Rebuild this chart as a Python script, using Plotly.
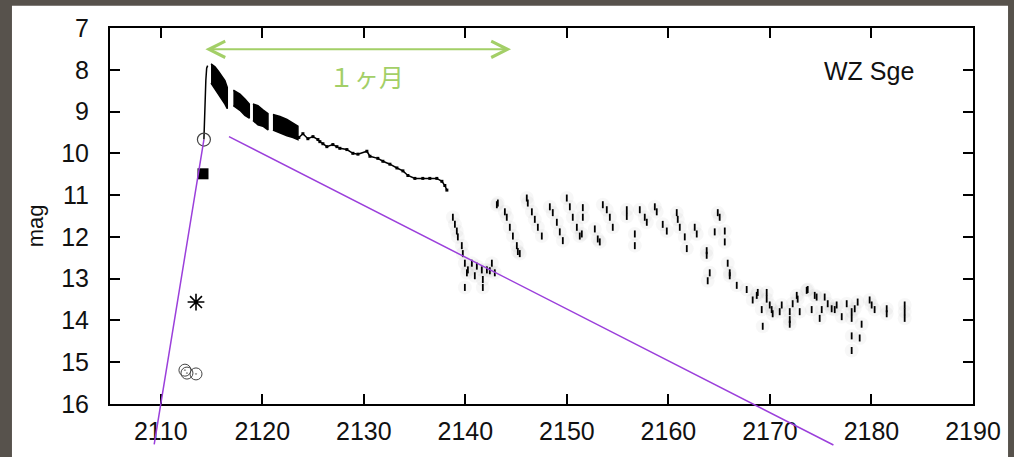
import plotly.graph_objects as go

# ---------------- data ----------------
# superoutburst plateau (dense superhump band): time, bright edge, faint edge
seg1_t = [2114.95, 2115.34, 2115.66, 2116.00, 2116.32, 2116.55]
seg1_hi = [7.86, 7.93, 8.03, 8.14, 8.26, 8.42]
seg1_lo = [8.32, 8.46, 8.58, 8.70, 8.82, 8.93]
seg2_t = [2117.15, 2117.80, 2118.29, 2118.72]
seg2_hi = [8.49, 8.58, 8.70, 8.82]
seg2_lo = [8.86, 8.97, 9.09, 9.16]
seg3_t = [2119.08, 2119.57, 2120.06, 2120.56]
seg3_hi = [8.82, 8.86, 8.96, 9.05]
seg3_lo = [9.21, 9.32, 9.35, 9.44]
seg4_t = [2121.05, 2121.74, 2122.43, 2123.02, 2123.51]
seg4_hi = [9.07, 9.12, 9.19, 9.28, 9.35]
seg4_lo = [9.44, 9.51, 9.58, 9.62, 9.67]

# rise to maximum
rise_t = [2114.25, 2114.30, 2114.36, 2114.44, 2114.52, 2114.62]
rise_mag = [9.67, 9.20, 8.70, 8.25, 7.96, 7.90]

# slow decline (thin part of plateau)
decl_t = [2123.60, 2124.00, 2124.49, 2124.99, 2125.48, 2125.67, 2125.97, 2126.36,
          2126.95, 2127.35, 2127.64, 2128.33, 2128.92, 2129.42, 2130.30, 2130.60,
          2131.38, 2131.88, 2132.57, 2133.26, 2133.85, 2134.34, 2135.03, 2135.81,
          2136.50, 2137.19, 2137.69, 2137.98, 2138.18]
decl_mag = [9.62, 9.53, 9.65, 9.60, 9.67, 9.72, 9.77, 9.84,
            9.79, 9.84, 9.88, 9.91, 10.00, 10.02, 9.95, 10.07,
            10.12, 10.19, 10.26, 10.35, 10.42, 10.53, 10.60, 10.60,
            10.60, 10.60, 10.67, 10.77, 10.88]

# rapid fade, dip and echo outbursts (rebrightenings), late decline
late_t = [2138.77, 2138.97, 2139.16, 2139.26, 2139.65, 2139.75, 2139.95, 2140.15,
          2140.25, 2140.64, 2140.93, 2141.13, 2141.62, 2141.72, 2142.12, 2142.41,
          2142.61, 2142.90, 2139.95, 2141.72,
          2143.10, 2143.20, 2143.89, 2144.08, 2144.38, 2144.68, 2145.07, 2145.17, 2145.36,
          2146.05, 2146.15, 2146.55, 2146.84, 2147.14, 2147.53,
          2148.32, 2148.61, 2149.01, 2149.30, 2149.60,
          2149.99, 2150.29, 2150.58, 2150.98, 2151.27,
          2151.57, 2151.57, 2151.47, 2152.75, 2153.04, 2153.24,
          2153.54, 2153.93, 2154.23, 2154.52,
          2155.90, 2155.90, 2156.69, 2156.69,
          2157.18, 2157.67, 2157.87,
          2158.66, 2158.85, 2159.44, 2159.84,
          2160.82, 2160.92, 2161.12, 2161.61, 2161.81,
          2162.59, 2162.79,
          2163.77, 2163.77, 2164.07, 2163.87,
          2164.86, 2165.05, 2164.56, 2165.55, 2165.55,
          2165.84, 2166.04, 2166.04, 2166.73, 2167.71,
          2168.30, 2168.70, 2168.80, 2169.68, 2169.68, 2169.19, 2169.98, 2170.17,
          2170.27, 2170.96, 2171.16, 2171.95, 2171.95, 2171.95, 2172.24, 2172.64,
          2172.73, 2172.93, 2173.62, 2173.72, 2174.41, 2174.60, 2174.11, 2175.10,
          2174.90, 2175.39, 2175.69, 2176.08, 2176.38, 2176.57, 2177.07, 2177.56,
          2178.05, 2178.05, 2178.35, 2178.64, 2179.03, 2178.05, 2178.84, 2178.05,
          2179.82, 2180.02, 2180.31, 2181.50, 2181.50, 2183.27, 2183.27, 2183.27,
          2169.29]
late_mag = [11.53, 11.70, 11.86, 12.00, 12.21, 12.40, 12.63, 12.86,
            12.79, 12.63, 12.93, 12.70, 12.79, 13.02, 12.79, 12.81,
            12.63, 12.86, 13.21, 13.21,
            11.23, 11.19, 11.40, 11.53, 11.77, 11.98, 12.21, 12.35, 12.40,
            11.07, 11.19, 11.40, 11.58, 11.77, 11.98,
            11.28, 11.42, 11.65, 11.88, 12.09,
            11.07, 11.28, 11.53, 11.77, 11.98,
            11.30, 11.53, 11.93, 11.81, 12.05, 12.12,
            11.23, 11.35, 11.53, 11.77,
            11.35, 11.51, 11.93, 12.21,
            11.35, 11.53, 11.65,
            11.28, 11.40, 11.70, 11.86,
            11.42, 11.58, 11.77, 12.00, 12.28,
            11.77, 11.93,
            12.33, 12.44, 12.86, 13.05,
            11.42, 11.53, 11.88, 11.86, 12.12,
            12.63, 12.86, 12.93, 13.16, 13.26,
            13.51, 13.40, 13.33, 13.33, 13.49, 13.74, 13.63, 13.74,
            13.84, 13.79, 13.63, 13.79, 13.98, 14.09, 13.60, 13.40,
            13.49, 13.79, 13.28, 13.26, 13.40, 13.44, 13.74, 13.74,
            13.95, 13.44, 13.60, 13.72, 13.74, 13.63, 13.91, 13.60,
            13.79, 13.95, 13.72, 13.56, 14.09, 14.37, 14.42, 14.72,
            13.51, 13.63, 13.74, 13.72, 13.84, 13.63, 13.79, 13.95,
            14.14]

# pre-outburst / early observations
circ_t = [2112.38, 2112.58, 2113.47]
circ_mag = [15.19, 15.26, 15.28]
star_t = [2113.47]
star_mag = [13.56]
sq_t = [2114.16]
sq_mag = [10.49]
open_t = [2114.25]
open_mag = [9.67]

# guide lines (purple): visible end first, far end second
line1_t = [2114.25, 2109.33]
line1_mag = [9.67, 17.0]
line2_t = [2116.72, 2176.40]
line2_mag = [9.60, 17.0]

# "1 month" arrow span
arrow_t = [2114.25, 2144.5]
arrow_mag = 7.51

x_ticks = [2110, 2120, 2130, 2140, 2150, 2160, 2170, 2180, 2190]
y_ticks = [7, 8, 9, 10, 11, 12, 13, 14, 15, 16]

# ---------------- figure ----------------
fig = go.Figure()

# faint grey halo of the sparse late data
fig.add_trace(go.Scatter(x=late_t, y=late_mag, mode="markers", hoverinfo="skip",
                         marker=dict(symbol="circle", size=14, color="rgba(0,0,0,0.03)",
                                     line=dict(width=0))))

for st, shi, slo in [(seg1_t, seg1_hi, seg1_lo), (seg2_t, seg2_hi, seg2_lo),
                     (seg3_t, seg3_hi, seg3_lo), (seg4_t, seg4_hi, seg4_lo)]:
    fig.add_trace(go.Scatter(x=st + st[::-1], y=shi + slo[::-1], mode="lines",
                             fill="toself", fillcolor="black",
                             line=dict(color="black", width=1.5)))

fig.add_trace(go.Scatter(x=rise_t, y=rise_mag, mode="lines",
                         line=dict(color="black", width=1.5)))
fig.add_trace(go.Scatter(x=decl_t, y=decl_mag, mode="lines+markers",
                         line=dict(color="black", width=1.5),
                         marker=dict(symbol="square", size=3, color="black")))
fig.add_trace(go.Scatter(x=late_t, y=late_mag, mode="markers",
                         marker=dict(symbol="line-ns", size=5, color="black",
                                     line=dict(color="black", width=1.8))))

fig.add_trace(go.Scatter(x=circ_t, y=circ_mag, mode="markers",
                         marker=dict(symbol="circle-open-dot", size=12, color="#444",
                                     line=dict(color="#444", width=1))))
fig.add_trace(go.Scatter(x=open_t, y=open_mag, mode="markers",
                         marker=dict(symbol="circle-open", size=13, color="#444",
                                     line=dict(color="#444", width=1.2))))
fig.add_trace(go.Scatter(x=sq_t, y=sq_mag, mode="markers",
                         marker=dict(symbol="square", size=11, color="black")))
fig.add_trace(go.Scatter(x=star_t, y=star_mag, mode="markers",
                         marker=dict(symbol="asterisk-open", size=14, color="black",
                                     line=dict(color="black", width=1.6))))

# purple guide lines (annotation arrows are not clipped to the plot area)
purple = "#9b3fdb"
for lt, lm in [(line1_t, line1_mag), (line2_t, line2_mag)]:
    fig.add_annotation(x=lt[0], y=lm[0], ax=lt[1], ay=lm[1],
                       xref="x", yref="y", axref="x", ayref="y", text="",
                       showarrow=True, arrowhead=0, arrowwidth=1.5,
                       arrowcolor=purple, standoff=0, startstandoff=0)

green = "#a3cf67"
fig.add_annotation(x=arrow_t[1], y=arrow_mag, ax=arrow_t[0], ay=arrow_mag,
                   xref="x", yref="y", axref="x", ayref="y", text="",
                   showarrow=True, arrowside="end+start", arrowhead=5,
                   startarrowhead=5, arrowsize=1.6, startarrowsize=1.6,
                   arrowwidth=2, arrowcolor=green)
fig.add_annotation(x=2130.3, y=8.16, xref="x", yref="y", text="１ヶ月",
                   showarrow=False,
                   font=dict(family="Noto Sans CJK JP", size=25, color=green))
fig.add_annotation(x=2179.8, y=8.02, xref="x", yref="y", text="WZ Sge",
                   showarrow=False,
                   font=dict(family="Liberation Sans, Arial", size=25, color="#111"))
# y-axis title
fig.add_annotation(x=-0.087, y=0.475, xref="paper", yref="paper", text="mag",
                   textangle=-90, showarrow=False, xanchor="center", yanchor="middle",
                   font=dict(family="Liberation Sans, Arial", size=22, color="#111"))

# white page behind the chart
fig.add_shape(type="rect", xref="paper", yref="paper",
              x0=-0.1136, x1=1.0406, y0=-0.3, y1=1.0594,
              fillcolor="white", line=dict(width=0), layer="below")

axis_common = dict(showgrid=False, zeroline=False, showline=True, linecolor="black",
                   linewidth=2, mirror="ticks", ticks="inside", ticklen=10,
                   tickwidth=2, tickcolor="black",
                   tickfont=dict(family="Liberation Sans, Arial", size=25, color="#111"))

fig.update_layout(
    width=1014, height=457,
    margin=dict(l=110, r=41, t=28, b=42),
    paper_bgcolor="#57524c", plot_bgcolor="white",
    showlegend=False,
    xaxis=dict(range=[2105, 2190], tickvals=x_ticks, ticklabelstandoff=4, **axis_common),
    yaxis=dict(range=[16, 7], tickvals=y_ticks, ticklabelstandoff=14, **axis_common),
)

fig.write_html("out.html")
